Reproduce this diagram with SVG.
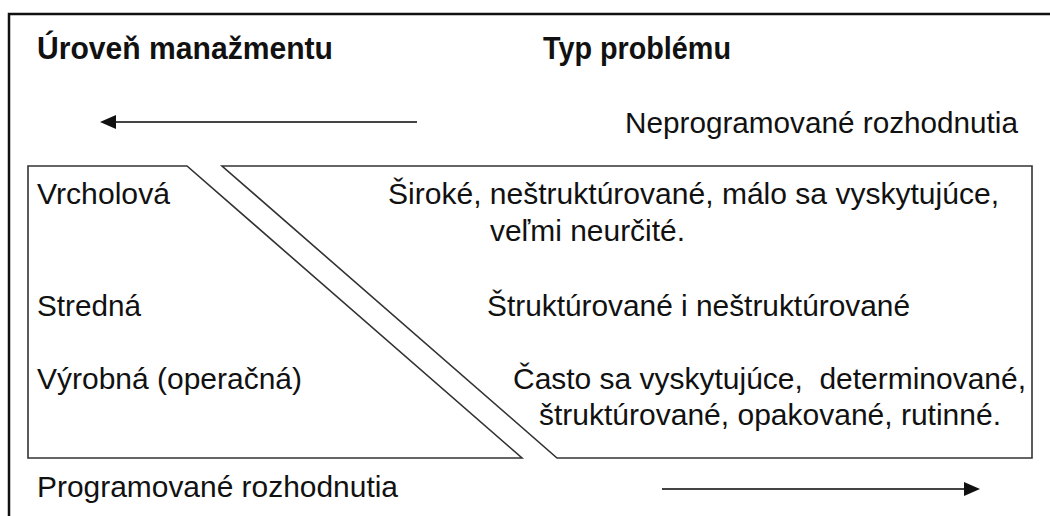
<svg xmlns="http://www.w3.org/2000/svg" width="1050" height="516" viewBox="0 0 1050 516">
  <style>
    .frame { fill: none; stroke: #111; stroke-width: 2.5; }
    .box { fill: none; stroke: #333; stroke-width: 1.6; stroke-linejoin: miter; }
    .arrow { fill: none; stroke: #444; stroke-width: 2.2; }
    .head { fill: #111; }
    text { font-family: "Liberation Sans", Arial, sans-serif; fill: #111; }
    .title { font-size: 31px; font-weight: bold; }
    .lbl { font-size: 30px; }
  </style>

  <rect width="1050" height="516" fill="#fff"/>

  <!-- outer frame: top and left edges only -->
  <path class="frame" d="M9,516 V14 H1050"/>

  <!-- column headings -->
  <g id="headings">
    <text class="title" x="37" y="59" textLength="296" lengthAdjust="spacingAndGlyphs">Úroveň manažmentu</text>
    <text class="title" x="543" y="59" textLength="188" lengthAdjust="spacingAndGlyphs">Typ problému</text>
  </g>

  <!-- left block: management levels -->
  <g id="levels">
    <path class="box" d="M28,166 H187 L522,458 H28 Z"/>
    <text class="lbl" x="37" y="204" textLength="133" lengthAdjust="spacingAndGlyphs">Vrcholová</text>
    <text class="lbl" x="37" y="316" textLength="104" lengthAdjust="spacingAndGlyphs">Stredná</text>
    <text class="lbl" x="37" y="389" textLength="265" lengthAdjust="spacingAndGlyphs">Výrobná (operačná)</text>
  </g>

  <!-- right block: problem types -->
  <g id="problems">
    <path class="box" d="M222,166 H1032 V458 H557 Z"/>
    <text class="lbl" x="388" y="204" textLength="611" lengthAdjust="spacingAndGlyphs">Široké, neštruktúrované, málo sa vyskytujúce,</text>
    <text class="lbl" x="490" y="241" textLength="195" lengthAdjust="spacingAndGlyphs">veľmi neurčité.</text>
    <text class="lbl" x="487" y="316" textLength="423" lengthAdjust="spacingAndGlyphs">Štruktúrované i neštruktúrované</text>
    <text class="lbl" x="513" y="389" textLength="513" lengthAdjust="spacingAndGlyphs" xml:space="preserve">Často sa vyskytujúce,  determinované,</text>
    <text class="lbl" x="539" y="425" textLength="462" lengthAdjust="spacingAndGlyphs">štruktúrované, opakované, rutinné.</text>
  </g>

  <!-- decision types -->
  <g id="decisions">
    <text class="lbl" x="625" y="133" textLength="393" lengthAdjust="spacingAndGlyphs">Neprogramované rozhodnutia</text>
    <text class="lbl" x="37" y="497" textLength="361" lengthAdjust="spacingAndGlyphs">Programované rozhodnutia</text>
  </g>

  <!-- direction arrows -->
  <g id="connectors">
    <line class="arrow" x1="417" y1="122" x2="114" y2="122"/>
    <path class="head" d="M100,122 L116,115 L116,129 Z"/>
    <line class="arrow" x1="662" y1="489" x2="966" y2="489"/>
    <path class="head" d="M980,489 L964,482 L964,496 Z"/>
  </g>
</svg>
